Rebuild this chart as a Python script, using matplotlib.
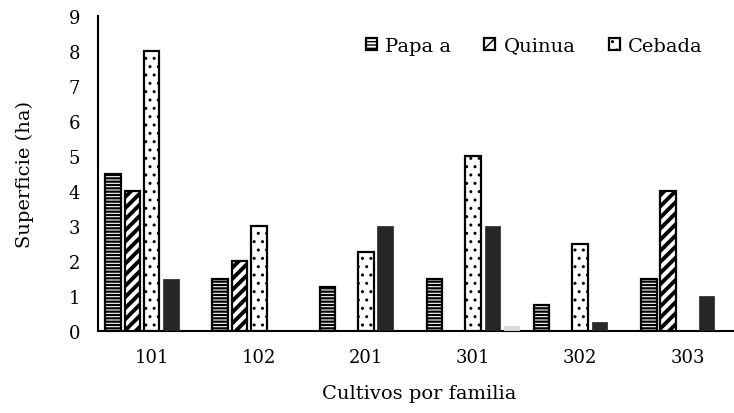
# -*- coding: utf-8 -*-

import numpy as np
import matplotlib
matplotlib.use("Agg")
import matplotlib.pyplot as plt

plt.rcParams['font.family'] = ['DejaVu Serif']
plt.rcParams['hatch.color'] = 'black'

familias = ['101', '102', '201', '301', '302', '303']
papa    = [4.5, 1.5, 1.25, 1.5, 0.75, 1.5]
quinua  = [4.0, 2.0, 0.0, 0.0, 0.0, 4.0]
cebada  = [8.0, 3.0, 2.25, 5.0, 2.5, 0.0]
serie4  = [1.5, 0.0, 3.0, 3.0, 0.25, 1.0]
serie5  = [0.0, 0.0, 0.0, 0.15, 0.0, 0.0]

fig = plt.figure(figsize=(7.34, 4.14), dpi=100)
ax = fig.add_axes((0.1335, 0.198, 0.876, 0.761))

x = np.arange(len(familias))
paso = 0.18
ancho = 0.145

# (valores, hatch, grosor hatch, relleno, borde, etiqueta)
series = [
    (papa,   '-----', 1.6, 'white',   'black',   'Papa a'),
    (quinua, '///',   2.8, 'white',   'black',   'Quinua'),
    (cebada, '..',    1.0, 'white',   'black',   'Cebada'),
    (serie4, None,    1.0, '#262626', '#262626', None),
    (serie5, None,    1.0, '#d9d9d9', '#d9d9d9', None),
]

handles = []
for i, (vals, hatch, hlw, fc, ec, lab) in enumerate(series):
    plt.rcParams['hatch.linewidth'] = hlw
    pos = x + (i - 2) * paso
    v = np.array(vals)
    mask = v > 0
    bars = ax.bar(pos[mask], v[mask], width=ancho, color=fc, edgecolor=ec,
                  hatch=hatch, linewidth=1.6 if hatch else 0.5, zorder=3)
    if lab:
        handles.append((bars, lab))

ax.set_xlim(-0.5, 5.5)
ax.set_ylim(0, 9)
ax.set_yticks(range(0, 10))
ax.set_xticks(x)
ax.set_xticklabels(familias)
ax.tick_params(axis='both', length=0, labelsize=13)
ax.tick_params(axis='y', pad=13)
ax.tick_params(axis='x', pad=12)

for s in ['top', 'right']:
    ax.spines[s].set_visible(False)
ax.spines['left'].set_linewidth(1.5)
ax.spines['bottom'].set_linewidth(1.5)

ax.set_ylabel('Superficie (ha)', fontsize=14, labelpad=25)
ax.set_xlabel('Cultivos por familia', fontsize=14, labelpad=13)

leg = ax.legend([h for h, _ in handles], [l for _, l in handles],
                loc='upper right', bbox_to_anchor=(0.968, 0.99), ncol=3,
                frameon=False, fontsize=14, handlelength=0.55, handleheight=0.55,
                handletextpad=0.45, columnspacing=1.7)

fig.savefig('out.png', dpi=100)
